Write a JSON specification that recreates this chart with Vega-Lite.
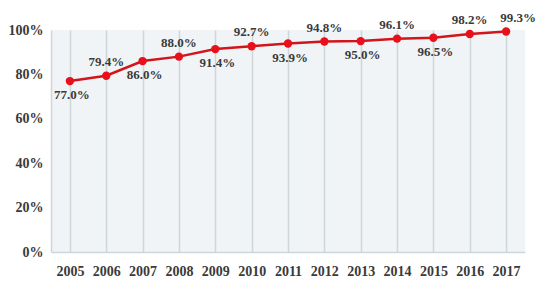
{
  "$schema": "https://vega.github.io/schema/vega-lite/v6.json",
  "width": 474,
  "height": 222,
  "autosize": {"type": "none"},
  "padding": {"left": 51, "top": 30, "right": 25, "bottom": 35},
  "background": "#ffffff",
  "config": {
    "view": {"fill": "#f1f4f6", "stroke": null},
    "axis": {
      "labelFont": "Liberation Serif, DejaVu Serif, serif",
      "labelFontWeight": "bold",
      "labelFontSize": 14,
      "labelColor": "#3a3a3a",
      "ticks": false,
      "domainColor": "#cfd6da",
      "domainWidth": 1.5,
      "title": null
    }
  },
  "data": {
    "values": [
      {"year": "2005", "rate": 0.770},
      {"year": "2006", "rate": 0.794},
      {"year": "2007", "rate": 0.860},
      {"year": "2008", "rate": 0.880},
      {"year": "2009", "rate": 0.914},
      {"year": "2010", "rate": 0.927},
      {"year": "2011", "rate": 0.939},
      {"year": "2012", "rate": 0.948},
      {"year": "2013", "rate": 0.950},
      {"year": "2014", "rate": 0.961},
      {"year": "2015", "rate": 0.965},
      {"year": "2016", "rate": 0.982},
      {"year": "2017", "rate": 0.993}
    ]
  },
  "encoding": {
    "x": {
      "field": "year",
      "type": "ordinal",
      "scale": {"type": "point", "padding": 0.52},
      "axis": {
        "labelAngle": 0,
        "labelPadding": 12,
        "grid": true,
        "gridColor": "#cfd6da",
        "gridWidth": 1.5
      }
    },
    "y": {
      "field": "rate",
      "type": "quantitative",
      "scale": {"domain": [0, 1]},
      "axis": {
        "format": ".0%",
        "values": [0, 0.2, 0.4, 0.6, 0.8, 1],
        "grid": false,
        "labelPadding": 8
      }
    }
  },
  "layer": [
    {
      "mark": {"type": "line", "color": "#d2141b", "strokeWidth": 2.5}
    },
    {
      "mark": {"type": "point", "filled": true, "color": "#e8101a", "size": 70, "opacity": 1}
    },
    {
      "transform": [{"filter": {"field": "year", "oneOf": ["2005", "2007", "2009", "2011", "2013", "2015"]}}],
      "mark": {"type": "text", "baseline": "middle", "dy": 14, "dx": 2, "font": "Liberation Serif, DejaVu Serif, serif", "fontWeight": "bold", "fontSize": 13, "color": "#3a3a3a"},
      "encoding": {"text": {"field": "rate", "type": "quantitative", "format": ".1%"}}
    },
    {
      "transform": [{"filter": {"field": "year", "oneOf": ["2006", "2008", "2010", "2012", "2014", "2016"]}}],
      "mark": {"type": "text", "baseline": "middle", "dy": -14, "font": "Liberation Serif, DejaVu Serif, serif", "fontWeight": "bold", "fontSize": 13, "color": "#3a3a3a"},
      "encoding": {"text": {"field": "rate", "type": "quantitative", "format": ".1%"}}
    },
    {
      "transform": [{"filter": {"field": "year", "oneOf": ["2017"]}}],
      "mark": {"type": "text", "baseline": "middle", "dy": -14, "dx": 12, "font": "Liberation Serif, DejaVu Serif, serif", "fontWeight": "bold", "fontSize": 13, "color": "#3a3a3a"},
      "encoding": {"text": {"field": "rate", "type": "quantitative", "format": ".1%"}}
    }
  ]
}
